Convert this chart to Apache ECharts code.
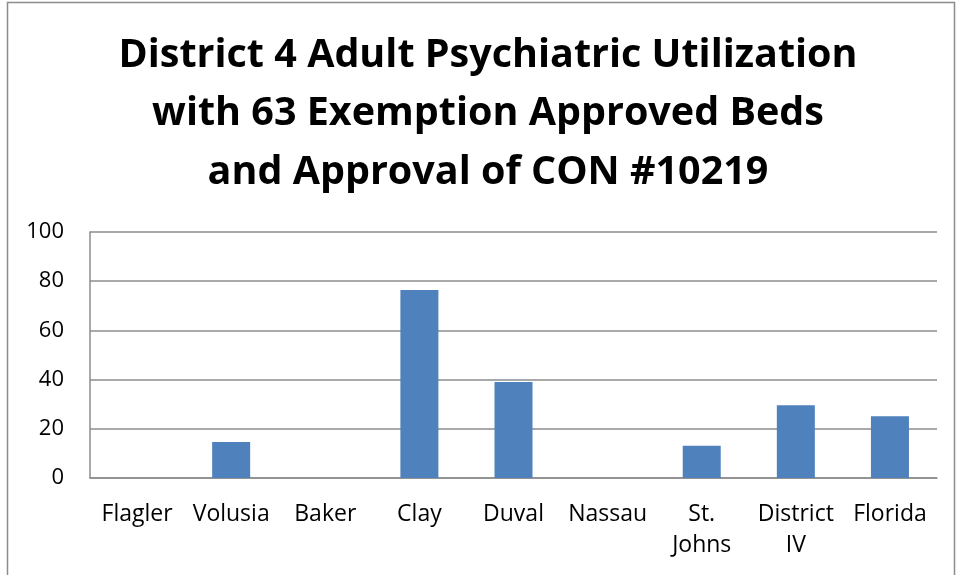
<!DOCTYPE html>
<html>
<head>
<meta charset="utf-8">
<script src="https://cdn.jsdelivr.net/npm/echarts@6/dist/echarts.min.js"></script>
<style>
html,body{margin:0;padding:0;background:#fff;}
#chart{width:958px;height:575px;}
</style>
</head>
<body>
<div id="chart"></div>
<script>
const titleText = "District 4 Adult Psychiatric Utilization\nwith 63 Exemption Approved Beds\nand Approval of CON #10219";
const categories = ["Flagler", "Volusia", "Baker", "Clay", "Duval", "Nassau", "St. Johns", "District IV", "Florida"];
const values = [0, 14.6, 0, 76.4, 39.0, 0, 13.1, 29.6, 25.1];
const yTicks = [0, 20, 40, 60, 80, 100];

const chart = echarts.init(document.getElementById('chart'), null, {renderer: 'canvas'});
chart.setOption({
  animation: false,
  backgroundColor: '#ffffff',
  title: {
    text: titleText,
    left: 483,
    top: 21,
    textAlign: 'center',
    textStyle: {
      fontFamily: 'Open Sans',
      fontWeight: 'bold',
      fontSize: 39.5,
      lineHeight: 58.5,
      color: '#000000'
    }
  },
  graphic: [{
    type: 'rect',
    shape: {x: 7.5, y: 2.5, width: 947, height: 600},
    style: {fill: 'none', stroke: '#8c8c8c', lineWidth: 1.5},
    silent: true
  }],
  grid: {left: 90, right: 21, top: 232, bottom: 97, containLabel: false},
  xAxis: {
    type: 'category',
    data: categories,
    axisLine: {show: true, lineStyle: {color: '#8c8c8c', width: 1.5}},
    axisTick: {show: false},
    axisLabel: {
      interval: 0,
      margin: 21,
      fontFamily: 'Open Sans',
      fontSize: 23,
      lineHeight: 31,
      color: '#000000',
      formatter: function (v) { return v.replace(' ', '\n'); }
    }
  },
  yAxis: {
    type: 'value',
    min: yTicks[0],
    max: yTicks[yTicks.length - 1],
    interval: 20,
    axisLine: {show: true, lineStyle: {color: '#8c8c8c', width: 1.5}},
    axisTick: {show: false},
    splitLine: {show: true, lineStyle: {color: '#8c8c8c', width: 1.5}},
    axisLabel: {
      margin: 26,
      fontFamily: 'Open Sans',
      fontSize: 22,
      color: '#000000'
    }
  },
  series: [{
    type: 'bar',
    data: values,
    barWidth: 38,
    itemStyle: {color: '#4f81bd', borderWidth: 0}
  }]
});
</script>
</body>
</html>
